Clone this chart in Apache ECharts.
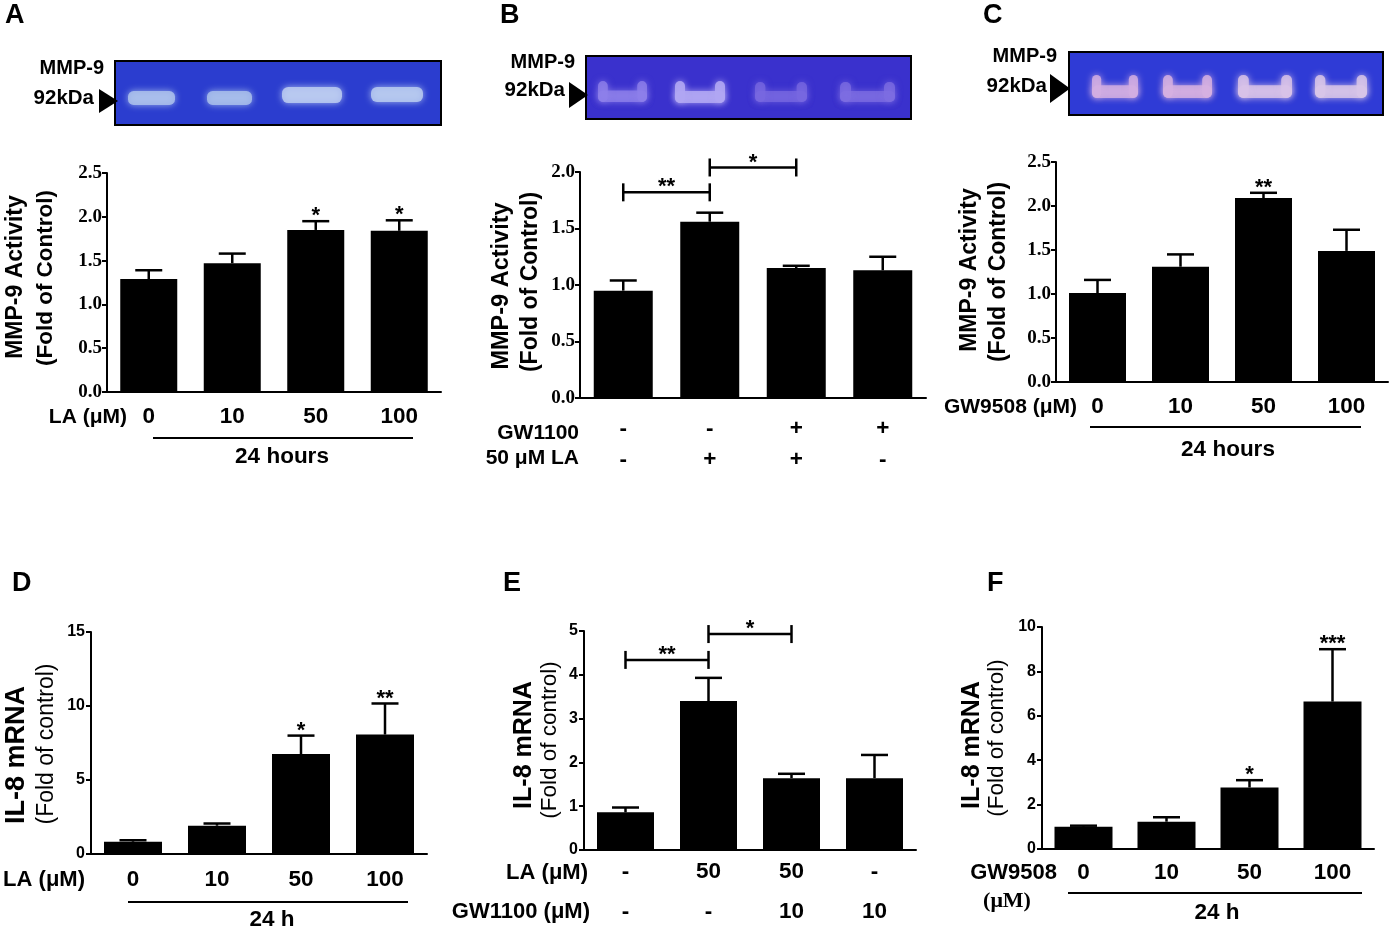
<!DOCTYPE html>
<html><head><meta charset="utf-8">
<script src="https://cdn.jsdelivr.net/npm/echarts@6/dist/echarts.min.js"></script>
<style>html,body{margin:0;padding:0;background:#fff}#c{width:1389px;height:932px}</style>
</head><body><div id="c"></div>
<script>
// ---------------- DATA ----------------
const A_categories = ['0', '10', '50', '100'];
const A_means = [1.29, 1.47, 1.85, 1.84];
const A_sem = [0.10, 0.11, 0.10, 0.12];
const A_stars = ['', '', '*', '*'];
const A_yRange = [0, 2.5, 0.5];

const B_GW1100 = ['-', '-', '+', '+'];
const B_LA = ['-', '+', '+', '-'];
const B_means = [0.95, 1.56, 1.15, 1.13];
const B_sem = [0.09, 0.08, 0.02, 0.12];
const B_brackets = [[0, 1, 1.82, '**'], [1, 2, 2.04, '*']];
const B_yRange = [0, 2.0, 0.5];

const C_categories = ['0', '10', '50', '100'];
const C_means = [1.01, 1.31, 2.09, 1.49];
const C_sem = [0.15, 0.14, 0.06, 0.24];
const C_stars = ['', '', '**', ''];
const C_yRange = [0, 2.5, 0.5];

const D_categories = ['0', '10', '50', '100'];
const D_means = [0.83, 1.91, 6.75, 8.07];
const D_sem = [0.10, 0.15, 1.25, 2.10];
const D_stars = ['', '', '*', '**'];
const D_yRange = [0, 15, 5];

const E_LA = ['-', '50', '50', '-'];
const E_GW1100 = ['-', '-', '10', '10'];
const E_means = [0.86, 3.40, 1.64, 1.64];
const E_sem = [0.11, 0.53, 0.10, 0.53];
const E_brackets = [[0, 1, 4.34, '**'], [1, 2, 4.93, '*']];
const E_yRange = [0, 5, 1];

const F_categories = ['0', '10', '50', '100'];
const F_means = [1.00, 1.23, 2.77, 6.64];
const F_sem = [0.05, 0.20, 0.33, 2.36];
const F_stars = ['', '', '*', '***'];
const F_yRange = [0, 10, 2];

// ---------------- BUILD ----------------
const SANS = 'Liberation Sans';
const SERIF = 'Liberation Serif';
const grids = [], xAxes = [], yAxes = [], series = [];

function panel(gi, L, cats, means, sem, stars, brackets, yr, serifTicks, xLab) {
  grids.push({left: L.left, top: L.top, width: L.width, height: L.height});
  xAxes.push({
    type: 'category', gridIndex: gi, data: cats,
    axisLine: {lineStyle: {color: '#000', width: 2}},
    axisTick: {show: false},
    axisLabel: Object.assign({interval: 0, color: '#000', fontFamily: SANS, fontWeight: 'bold', fontSize: 22.5}, xLab)
  });
  yAxes.push({
    type: 'value', gridIndex: gi, min: yr[0], max: yr[1], interval: yr[2],
    axisLine: {show: true, lineStyle: {color: '#000', width: 2}},
    axisTick: {show: true, length: 5, lineStyle: {color: '#000', width: 2}},
    splitLine: {show: false},
    axisLabel: serifTicks
      ? {color: '#000', fontFamily: SERIF, fontWeight: 'bold', fontSize: 19, margin: 5, formatter: v => v.toFixed(1)}
      : {color: '#000', fontFamily: SANS, fontWeight: 'bold', fontSize: 16, margin: 6}
  });
  series.push({type: 'bar', xAxisIndex: gi, yAxisIndex: gi, data: means, barWidth: L.barW,
    itemStyle: {color: '#000'}, silent: true});
  series.push({
    type: 'custom', xAxisIndex: gi, yAxisIndex: gi, z: 5, silent: true,
    data: means.map((m, i) => [i, m, m + sem[i]]),
    encode: {x: 0, y: [1, 2]},
    renderItem: function (params, api) {
      const b = api.coord([api.value(0), api.value(1)]);
      const t = api.coord([api.value(0), api.value(2)]);
      const st = {stroke: '#000', lineWidth: 2.5};
      const ch = [
        {type: 'line', shape: {x1: b[0], y1: b[1], x2: t[0], y2: t[1]}, style: st},
        {type: 'line', shape: {x1: t[0] - 13.5, y1: t[1], x2: t[0] + 13.5, y2: t[1]}, style: st}
      ];
      const s = stars ? stars[params.dataIndex] : '';
      if (s) ch.push({type: 'text', x: t[0], y: t[1] - 5,
        style: {text: s, fill: '#000', font: 'bold 22px ' + SANS, align: 'center', verticalAlign: 'middle'}});
      return {type: 'group', children: ch};
    }
  });
  if (brackets) {
    series.push({
      type: 'custom', xAxisIndex: gi, yAxisIndex: gi, z: 5, silent: true, clip: false,
      data: brackets.map(b => [b[0], b[1], b[2]]),
      encode: {x: [0, 1], y: 2},
      renderItem: function (params, api) {
        const p1 = api.coord([api.value(0), api.value(2)]);
        const p2 = api.coord([api.value(1), api.value(2)]);
        const st = {stroke: '#000', lineWidth: 2.5};
        return {type: 'group', children: [
          {type: 'line', shape: {x1: p1[0], y1: p1[1], x2: p2[0], y2: p2[1]}, style: st},
          {type: 'line', shape: {x1: p1[0], y1: p1[1] - 9, x2: p1[0], y2: p1[1] + 9}, style: st},
          {type: 'line', shape: {x1: p2[0], y1: p2[1] - 9, x2: p2[0], y2: p2[1] + 9}, style: st},
          {type: 'text', x: (p1[0] + p2[0]) / 2, y: p1[1] - 5,
            style: {text: brackets[params.dataIndex][3], fill: '#000', font: 'bold 22px ' + SANS, align: 'center', verticalAlign: 'middle'}}
        ]};
      }
    });
  }
}

const twoRow = (r1, r2) => r1.map((v, i) => v + '\n' + r2[i]);

panel(0, {left: 107, top: 173, width: 334, height: 219, barW: 57}, A_categories, A_means, A_sem, A_stars, null, A_yRange, true, {margin: 13});
panel(1, {left: 580, top: 172, width: 346, height: 226, barW: 59}, twoRow(B_GW1100, B_LA), B_means, B_sem, null, B_brackets, B_yRange, true, {margin: 15, lineHeight: 31});
panel(2, {left: 1056, top: 162, width: 332, height: 220, barW: 57}, C_categories, C_means, C_sem, C_stars, null, C_yRange, true, {margin: 13});
panel(3, {left: 91, top: 632, width: 336, height: 222, barW: 58}, D_categories, D_means, D_sem, D_stars, null, D_yRange, false, {margin: 14});
panel(4, {left: 584, top: 631, width: 332, height: 220, barW: 57}, twoRow(E_LA, E_GW1100), E_means, E_sem, null, E_brackets, E_yRange, false, {margin: 2, lineHeight: 40});
panel(5, {left: 1042, top: 627, width: 332, height: 222, barW: 58}, F_categories, F_means, F_sem, F_stars, null, F_yRange, false, {margin: 12});

// ---------------- DECORATION ----------------
const g = [];
function txt(text, x, y, size, opts) {
  opts = opts || {};
  g.push({type: 'text', x: x, y: y, rotation: opts.rot || 0, silent: true,
    style: {text: text, fill: '#000', font: (opts.weight || 'bold') + ' ' + size + 'px ' + (opts.family || SANS),
      align: opts.align || 'center', verticalAlign: 'middle'}});
}
function hline(x1, x2, y) {
  g.push({type: 'line', silent: true, shape: {x1: x1, y1: y, x2: x2, y2: y}, style: {stroke: '#000', lineWidth: 2}});
}
function tri(x1, y1, x2, y2) {
  g.push({type: 'polygon', silent: true, shape: {points: [[x1, y1], [x2, (y1 + y2) / 2], [x1, y2]]}, style: {fill: '#000'}});
}
function gel(x1, y1, x2, y2, color) {
  g.push({type: 'rect', silent: true, shape: {x: x1, y: y1, width: x2 - x1, height: y2 - y1}, style: {fill: color, stroke: '#000', lineWidth: 2}});
}
function band(x1, x2, y1, y2, color, ushape, op) {
  const w = x2 - x1, h = y2 - y1;
  const sty = {fill: color, shadowBlur: 7, shadowColor: color, opacity: op || 0.85};
  if (!ushape) {
    g.push({type: 'rect', silent: true, shape: {x: x1, y: y1, width: w, height: h, r: h / 2.5}, style: sty});
  } else {
    g.push({type: 'rect', silent: true, shape: {x: x1, y: y1 + h * 0.45, width: w, height: h * 0.55, r: h * 0.25}, style: sty});
    g.push({type: 'rect', silent: true, shape: {x: x1, y: y1, width: w * 0.2, height: h, r: 5}, style: sty});
    g.push({type: 'rect', silent: true, shape: {x: x2 - w * 0.2, y: y1, width: w * 0.2, height: h, r: 5}, style: sty});
  }
}

// panel letters
txt('A', 5, 16, 27, {align: 'left'});
txt('B', 500, 16, 27, {align: 'left'});
txt('C', 983, 16, 27, {align: 'left'});
txt('D', 12, 584, 27, {align: 'left'});
txt('E', 503, 584, 27, {align: 'left'});
txt('F', 987, 584, 27, {align: 'left'});

// gels
gel(115, 61, 441, 125, '#2b3dcf');
band(128, 175, 91, 105, '#adc2ec'); band(207, 252, 91, 105, '#a9bfeb');
band(282, 342, 87, 103, '#bccdf1'); band(371, 423, 87, 102, '#b9cbf0');
txt('MMP-9', 104, 68, 20, {align: 'right'}); txt('92kDa', 94, 98, 20.5, {align: 'right'}); tri(99, 89, 118, 113);

gel(586, 56, 911, 119, '#3a31cd');
band(598, 647, 81, 102, '#8d80ea', true, 0.8); band(675, 725, 81, 103, '#b0a6f3', true, 0.9);
band(755, 807, 82, 102, '#7868e0', true, 0.75); band(840, 895, 82, 102, '#7d6ee2', true, 0.75);
txt('MMP-9', 575, 62, 20, {align: 'right'}); txt('92kDa', 565, 90, 20.5, {align: 'right'}); tri(569, 82, 588, 108);

gel(1069, 52, 1383, 115, '#2f3bd6');
band(1092, 1138, 75, 98, '#d2aee2', true); band(1163, 1212, 75, 98, '#d6b0e0', true);
band(1238, 1292, 75, 98, '#d8c2e8', true); band(1315, 1367, 75, 98, '#d8c6e8', true);
txt('MMP-9', 1057, 56, 20, {align: 'right'}); txt('92kDa', 1047, 86, 20.5, {align: 'right'}); tri(1050, 74, 1070, 103);

// y-axis titles
txt('MMP-9 Activity', 16, 277, 23, {rot: Math.PI / 2});
txt('(Fold of Control)', 46, 278, 22.5, {rot: Math.PI / 2});
txt('MMP-9 Activity', 502, 286, 23.5, {rot: Math.PI / 2});
txt('(Fold of Control)', 531, 282, 23, {rot: Math.PI / 2});
txt('MMP-9 Activity', 970, 270, 23, {rot: Math.PI / 2});
txt('(Fold of Control)', 999, 272, 23, {rot: Math.PI / 2});
txt('IL-8 mRNA', 17, 755, 27, {rot: Math.PI / 2});
txt('(Fold of control)', 47, 744, 23, {rot: Math.PI / 2, weight: 'normal'});
txt('IL-8 mRNA', 524, 745, 25, {rot: Math.PI / 2});
txt('(Fold of control)', 550, 740, 22.5, {rot: Math.PI / 2, weight: 'normal'});
txt('IL-8 mRNA', 972, 745, 25, {rot: Math.PI / 2});
txt('(Fold of control)', 997, 738, 22.5, {rot: Math.PI / 2, weight: 'normal'});

// x-axis side labels
txt('LA (\u03bcM)', 127, 417, 21, {align: 'right'});
hline(153, 413, 438); txt('24 hours', 282, 457, 22.5);
txt('GW1100', 579, 433, 21, {align: 'right'});
txt('50 \u03bcM LA', 579, 458, 21, {align: 'right'});
txt('GW9508 (\u03bcM)', 1077, 407, 21, {align: 'right'});
hline(1090, 1361, 427); txt('24 hours', 1228, 450, 22.5);
txt('LA (\u03bcM)', 85, 880, 22, {align: 'right'});
hline(128, 408, 902); txt('24 h', 272, 920, 22.5);
txt('LA (\u03bcM)', 588, 873, 22, {align: 'right'});
txt('GW1100 (\u03bcM)', 590, 912, 22, {align: 'right'});
txt('GW9508', 1057, 873, 22, {align: 'right'});
txt('(\u03bcM)', 1007, 901, 22, {family: SERIF});
hline(1068, 1362, 893); txt('24 h', 1217, 913, 22.5);

const chart = echarts.init(document.getElementById('c'));
chart.setOption({
  animation: false,
  backgroundColor: '#fff',
  grid: grids, xAxis: xAxes, yAxis: yAxes, series: series,
  graphic: g
});
</script></body></html>
